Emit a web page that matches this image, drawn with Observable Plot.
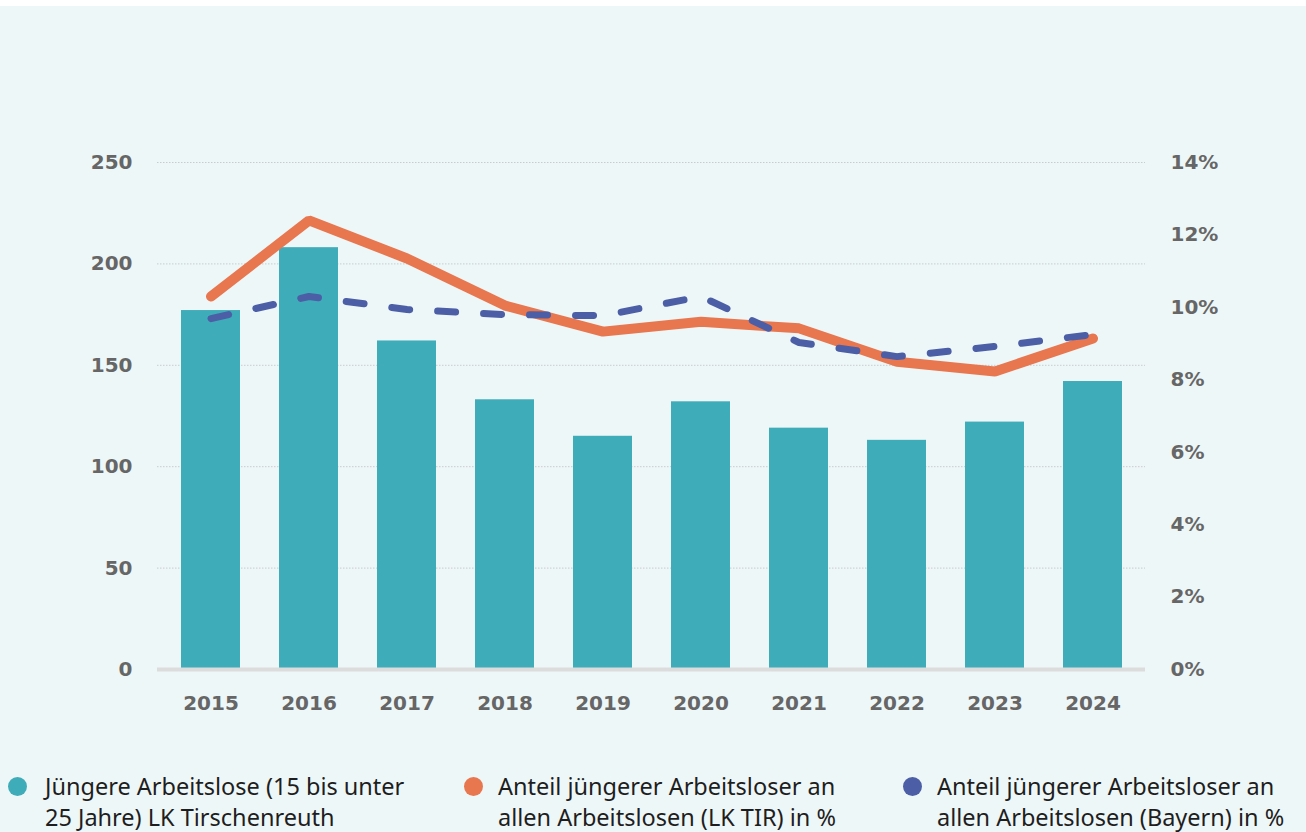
<!DOCTYPE html>
<html>
<head>
<meta charset="utf-8">
<script src="https://cdn.jsdelivr.net/npm/d3@7"></script>
<script src="https://cdn.jsdelivr.net/npm/@observablehq/plot@0.6"></script>
<style>
  html, body { margin: 0; padding: 0; background: #ffffff; }
  #wrap { margin-top: 6px; background: #eef7f8; width: 1306px; height: 826px; position: relative; overflow: hidden; }
  #chart svg { display: block; }
  .legend { position: absolute; top: 765px; left: 0; width: 1306px; font-family: "Noto Sans", sans-serif; font-size: 23.5px; line-height: 31px; color: #1e1e1e; }
  .item { position: absolute; top: 0; }
  .dot { position: absolute; left: 0; top: 6px; width: 19px; height: 19px; border-radius: 50%; }
  .txt { position: absolute; white-space: nowrap; }
</style>
</head>
<body>
<div id="wrap">
  <div id="chart"></div>
  <div class="legend" id="legend"></div>
</div>
<script>
const years = ["2015","2016","2017","2018","2019","2020","2021","2022","2023","2024"];
const youngUnemployed = [177, 208, 162, 133, 115, 132, 119, 113, 122, 142];
const shareTIR = [10.3, 12.4, 11.35, 10.05, 9.33, 9.6, 9.42, 8.5, 8.23, 9.14];
const shareBayern = [9.69, 10.3, 9.94, 9.8, 9.77, 10.3, 9.03, 8.64, 8.92, 9.25];
const leftTicks = [0, 50, 100, 150, 200, 250];
const rightTicks = [0, 2, 4, 6, 8, 10, 12, 14];
const seriesNames = [
  "Jüngere Arbeitslose (15 bis unter|25 Jahre) LK Tirschenreuth",
  "Anteil jüngerer Arbeitsloser an|allen Arbeitslosen (LK TIR) in %",
  "Anteil jüngerer Arbeitsloser an|allen Arbeitslosen (Bayern) in %"
];
const colors = ["#3eacb9", "#e8764e", "#4b5ea6"];

const k = 250 / 14;
const bars = years.map((y, i) => ({year: y, value: youngUnemployed[i]}));
const tir = years.map((y, i) => ({year: y, v: shareTIR[i] * k}));
const bay = years.map((y, i) => ({year: y, v: shareBayern[i] * k}));

const chart = Plot.plot({
  width: 1306,
  height: 754,
  marginTop: 156,
  marginBottom: 91,
  marginLeft: 157,
  marginRight: 161,
  style: {background: "transparent", fontFamily: "DejaVu Sans, sans-serif", fontSize: "20px", fontWeight: "bold", color: "#666"},
  x: {domain: years, paddingInner: 0.4, paddingOuter: 0.2, label: null},
  y: {domain: [0, 250], label: null},
  marks: [
    Plot.gridY(leftTicks.filter(d => d > 0), {stroke: "#c8cccc", strokeOpacity: 1, strokeWidth: 1, strokeDasharray: "1.5 1.5"}),
    Plot.barY(bars, {x: "year", y: "value", fill: colors[0]}),
    Plot.ruleY([0], {stroke: "#dcdcdc", strokeWidth: 4}),
    Plot.axisY({ticks: leftTicks, tickSize: 0, tickPadding: 25, fill: "#666"}),
    Plot.axisY({anchor: "right", ticks: rightTicks.map(d => d * k), tickFormat: d => Math.round(d / k) + "%", tickSize: 0, tickPadding: 25, textAnchor: "start", fill: "#666"}),
    Plot.axisX({tickSize: 0, tickPadding: 26, fill: "#666"}),
    Plot.line(tir, {x: "year", y: "v", stroke: colors[1], strokeWidth: 10, strokeLinejoin: "miter", strokeLinecap: "round"}),
    Plot.line(bay, {x: "year", y: "v", stroke: colors[2], strokeWidth: 7, strokeDasharray: "18 28", strokeLinecap: "round"})
  ]
});
document.getElementById("chart").appendChild(chart);

const legend = document.getElementById("legend");
const lx = [8, 464, 903];
seriesNames.forEach((name, i) => {
  const item = document.createElement("div");
  item.className = "item";
  item.style.left = lx[i] + "px";
  const dot = document.createElement("div");
  dot.className = "dot";
  dot.style.background = colors[i];
  const txt = document.createElement("div");
  txt.className = "txt";
  txt.style.left = (i === 0 ? 37 : 34) + "px";
  txt.innerHTML = name.split("|").join("<br>");
  item.appendChild(dot);
  item.appendChild(txt);
  legend.appendChild(item);
});
</script>
</body>
</html>
